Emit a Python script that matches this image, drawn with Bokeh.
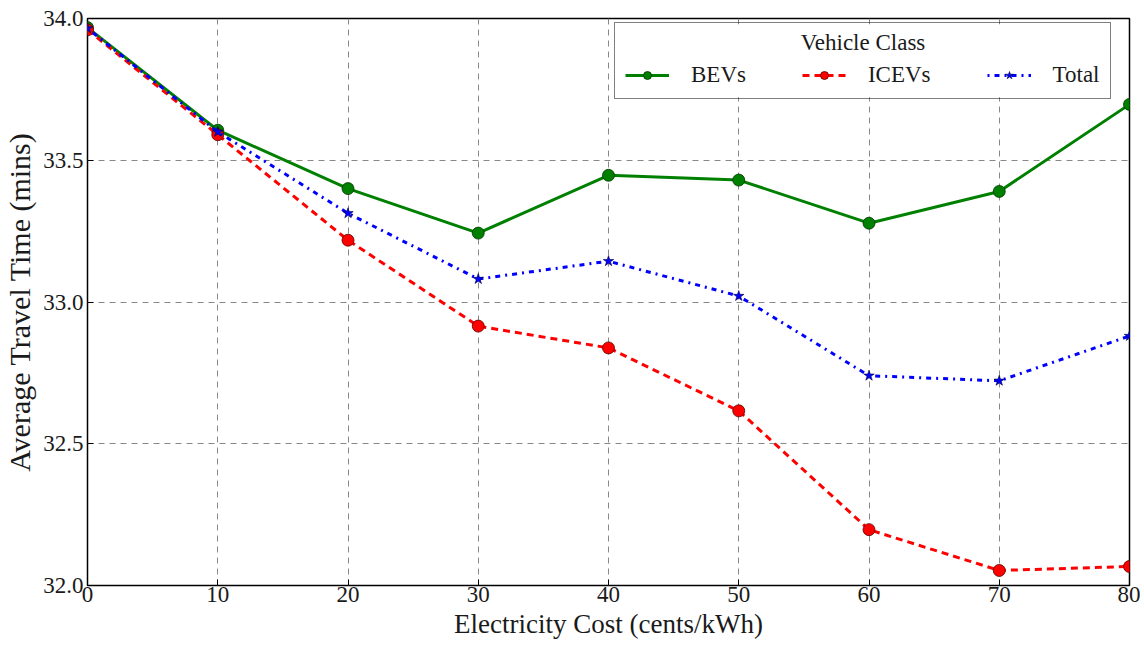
from bokeh.plotting import figure
from bokeh.models import Legend, LegendItem, FixedTicker, NumeralTickFormatter, Label, BoxAnnotation
from bokeh.embed import file_html
from bokeh.resources import INLINE

cost = [0, 10, 20, 30, 40, 50, 60, 70, 80]
bevs = [33.968, 33.606, 33.400, 33.243, 33.447, 33.430, 33.278, 33.390, 33.697]
icevs = [33.960, 33.590, 33.218, 32.915, 32.838, 32.616, 32.197, 32.053, 32.067]
total = [33.965, 33.600, 33.313, 33.081, 33.144, 33.021, 32.740, 32.722, 32.880]
x_ticks = [0, 10, 20, 30, 40, 50, 60, 70, 80]
y_ticks = [32.0, 32.5, 33.0, 33.5, 34.0]

FONT = "Liberation Serif"
TXT = "#1a1a1a"

p = figure(width=1140, height=641, output_backend="svg", toolbar_location=None,
           x_range=(0, 80), y_range=(32.0, 34.0),
           min_border_left=87, min_border_right=11, min_border_top=18, min_border_bottom=55)
p.outline_line_color = "black"
p.outline_line_width = 1.5

for ax in (p.xaxis[0], p.yaxis[0]):
    ax.axis_label_text_font = FONT
    ax.axis_label_text_font_style = "normal"
    ax.axis_label_text_color = TXT
    ax.major_label_text_font = FONT
    ax.major_label_text_font_size = "23px"
    ax.major_label_text_color = TXT
    ax.major_tick_in = 6
    ax.major_tick_out = 0
    ax.minor_tick_in = 0
    ax.minor_tick_out = 0
    ax.axis_line_color = None
    ax.major_tick_line_color = "black"

p.xaxis.axis_label = "Electricity Cost (cents/kWh)"
p.yaxis.axis_label = "Average Travel Time (mins)"
p.xaxis.axis_label_text_font_size = "27px"
p.yaxis.axis_label_text_font_size = "30px"
p.xaxis.ticker = FixedTicker(ticks=x_ticks)
p.yaxis.ticker = FixedTicker(ticks=y_ticks)
p.yaxis.formatter = NumeralTickFormatter(format="0.0")
p.xaxis.major_label_standoff = 1
p.yaxis.major_label_standoff = 4
p.xaxis.axis_label_standoff = 4
p.yaxis.axis_label_standoff = 4

p.grid.grid_line_color = "#888888"
p.grid.grid_line_dash = "6 5"
p.grid.grid_line_width = 1

l1 = p.line(cost, bevs, line_color="green", line_width=3)
m1 = p.scatter(cost, bevs, marker="circle", size=12, fill_color="green", line_color="#003300", line_width=0.8)
l2 = p.line(cost, icevs, line_color="red", line_width=3, line_dash="7 5")
m2 = p.scatter(cost, icevs, marker="circle", size=12, fill_color="red", line_color="#550000", line_width=0.8)
l3 = p.line(cost, total, line_color="blue", line_width=3, line_dash="2 5 5 5")
m3 = p.scatter(cost, total, marker="star", size=11, fill_color="blue", line_color="#000044", line_width=0.6)

# white backing for the legend so the centred title can sit on top of it
backing = BoxAnnotation(left=40.69, right=78.54, top=33.979, bottom=33.722,
                        fill_color="white", fill_alpha=1.0, line_color=None)
p.add_layout(backing)

title_lbl = Label(x=59.54, y=33.915, text="Vehicle Class", text_font=FONT,
                  text_font_size="23px", text_align="center", text_baseline="middle",
                  text_color=TXT)
p.add_layout(title_lbl)

legend = Legend(items=[LegendItem(label="BEVs", renderers=[l1, m1]),
                       LegendItem(label="ICEVs", renderers=[l2, m2]),
                       LegendItem(label="Total", renderers=[l3, m3])],
                orientation="horizontal", location=(527, 486),
                title=" ")
legend.title_text_font = FONT
legend.title_text_font_size = "23px"
legend.title_standoff = 3
legend.label_text_font = FONT
legend.label_text_font_size = "23px"
legend.label_text_color = TXT
legend.glyph_width = 44
legend.label_standoff = 22
legend.spacing = 56
legend.padding = 10
legend.margin = 0
legend.background_fill_alpha = 0
legend.border_line_color = "black"
legend.border_line_width = 1.5
p.add_layout(legend)

open("out.html", "w").write(file_html(p, INLINE))
